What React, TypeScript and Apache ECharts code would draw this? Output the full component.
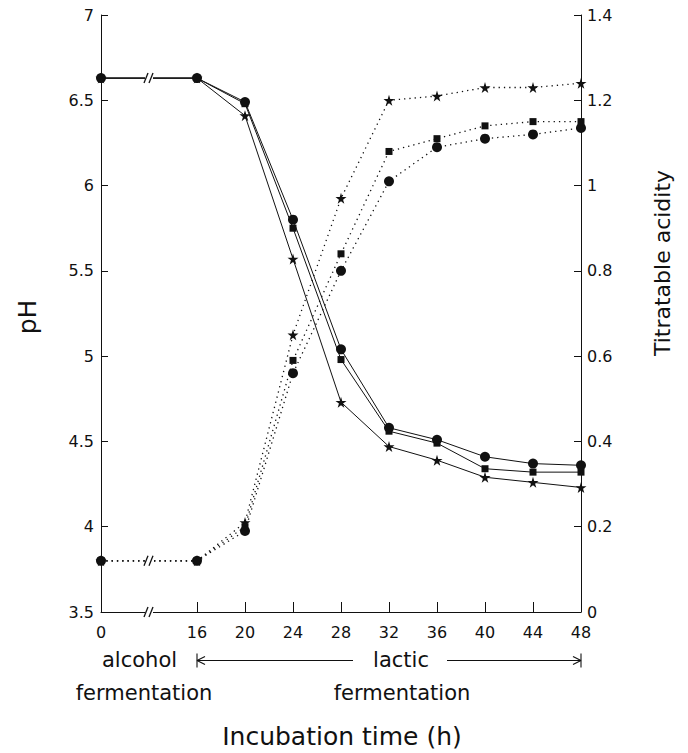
import React, { useEffect, useRef } from "react";
import * as echarts from "echarts";

const categories = ["0", "", "16", "20", "24", "28", "32", "36", "40", "44", "48"];
const phCircle = [6.63, null, 6.63, 6.49, 5.8, 5.04, 4.58, 4.51, 4.41, 4.37, 4.36];
const phSquare = [6.63, null, 6.63, 6.48, 5.75, 4.98, 4.56, 4.49, 4.34, 4.32, 4.32];
const phStar = [6.63, null, 6.63, 6.41, 5.57, 4.73, 4.47, 4.39, 4.29, 4.26, 4.23];
const taCircle = [0.12, null, 0.12, 0.19, 0.56, 0.8, 1.01, 1.09, 1.11, 1.12, 1.135];
const taSquare = [0.12, null, 0.12, 0.2, 0.59, 0.84, 1.08, 1.11, 1.14, 1.15, 1.15];
const taStar = [0.12, null, 0.12, 0.21, 0.65, 0.97, 1.2, 1.21, 1.23, 1.23, 1.24];

const FONT = "DejaVu Sans";
const INK = "#111";
const STAR = "path://M50,0 L61,35 L98,35 L68,57 L79,91 L50,70 L21,91 L32,57 L2,35 L39,35 Z";

export default function App() {
  const ref = useRef<HTMLDivElement>(null);
  useEffect(() => {
    if (!ref.current) return;
    const chart = echarts.init(ref.current, null, { renderer: "svg" });
    const solid = { color: INK, width: 1 };
    const dotted = { color: INK, width: 1.3, type: [1.3, 4] as any };
    const mk = (name: string, data: any[], yAxisIndex: number, symbol: string, size: number, ls: any) => ({
      name,
      type: "line",
      data,
      yAxisIndex,
      connectNulls: true,
      symbol,
      symbolSize: size,
      showSymbol: true,
      clip: false,
      itemStyle: { color: INK, borderWidth: 0 },
      lineStyle: ls,
    });
    chart.setOption({
      animation: false,
      grid: { left: 101, top: 15, width: 480, height: 597 },
      xAxis: {
        type: "category",
        data: categories,
        boundaryGap: false,
        axisLine: { show: true, lineStyle: { color: INK, width: 1 } },
        axisTick: {
          show: true,
          inside: true,
          length: 10,
          interval: (i: number) => i >= 2 && i < categories.length - 1,
          lineStyle: { color: INK },
        },
        axisLabel: { interval: 0, color: INK, fontFamily: FONT, fontSize: 16, margin: 12 },
        splitLine: { show: false },
      },
      yAxis: [
        {
          type: "value",
          min: 3.5,
          max: 7,
          interval: 0.5,
          axisLine: { show: true, lineStyle: { color: INK, width: 1 } },
          axisTick: { show: true, inside: true, length: 7, lineStyle: { color: INK } },
          axisLabel: { color: INK, fontFamily: FONT, fontSize: 16, margin: 7 },
          splitLine: { show: false },
        },
        {
          type: "value",
          min: 0,
          max: 1.4,
          interval: 0.2,
          position: "right",
          axisLine: { show: true, lineStyle: { color: INK, width: 1 } },
          axisTick: { show: true, inside: true, length: 7, lineStyle: { color: INK } },
          axisLabel: { color: INK, fontFamily: FONT, fontSize: 16, margin: 6 },
          splitLine: { show: false },
        },
      ],
      series: [
        mk("pH star", phStar, 0, STAR, 11, solid),
        mk("pH square", phSquare, 0, "rect", 7, solid),
        mk("pH circle", phCircle, 0, "circle", 10, solid),
        mk("TA circle", taCircle, 1, "circle", 10, dotted),
        mk("TA square", taSquare, 1, "rect", 7, dotted),
        mk("TA star", taStar, 1, STAR, 11, dotted),
      ],
    });

    const xb = chart.convertToPixel({ xAxisIndex: 0 }, 1) as number;
    const x0 = chart.convertToPixel({ xAxisIndex: 0 }, 0) as number;
    const x16 = chart.convertToPixel({ xAxisIndex: 0 }, 2) as number;
    const x48 = chart.convertToPixel({ xAxisIndex: 0 }, categories.length - 1) as number;
    const yPh = chart.convertToPixel({ yAxisIndex: 0 }, phCircle[0] as number) as number;
    const yTa = chart.convertToPixel({ yAxisIndex: 1 }, taCircle[0] as number) as number;
    const yBase = chart.convertToPixel({ yAxisIndex: 0 }, 3.5) as number;

    const brk = (y: number) => [
      { type: "rect", shape: { x: xb - 4, y: y - 3, width: 8, height: 6 }, style: { fill: "#fff" }, z: 100 },
      { type: "line", shape: { x1: xb - 5, y1: y + 5, x2: xb - 1, y2: y - 5 }, style: { stroke: INK, lineWidth: 1.3 }, z: 101 },
      { type: "line", shape: { x1: xb, y1: y + 5, x2: xb + 4, y2: y - 5 }, style: { stroke: INK, lineWidth: 1.3 }, z: 101 },
    ];
    const ya = 660.5;
    const seg = (x1: number, y1: number, x2: number, y2: number) => ({
      type: "line",
      shape: { x1, y1, x2, y2 },
      style: { stroke: INK, lineWidth: 1.1 },
      z: 101,
    });
    const txt = (text: string, x: number, y: number, size: number, align: string, rot = 0) => ({
      type: "text",
      x,
      y,
      rotation: rot,
      style: {
        text,
        fill: INK,
        font: `${size}px "${FONT}"`,
        align,
        verticalAlign: "middle",
      },
      z: 101,
    });
    chart.setOption({
      graphic: [
        ...brk(yPh),
        ...brk(yTa),
        ...brk(yBase),
        seg(x16, ya - 7, x16, ya + 7),
        seg(x16, ya, 353, ya),
        seg(x16, ya, x16 + 8, ya - 4),
        seg(x16, ya, x16 + 8, ya + 4),
        seg(447, ya, x48, ya),
        seg(x48, ya, x48 - 8, ya - 4),
        seg(x48, ya, x48 - 8, ya + 4),
        seg(x48, ya - 7, x48, ya + 7),
        txt("alcohol", x0 + 1, ya - 1, 21, "left"),
        txt("fermentation", 144, 693, 21, "center"),
        txt("lactic", 401, ya - 1, 21, "center"),
        txt("fermentation", 402, 693, 21, "center"),
        txt("Incubation time (h)", 342, 736, 25, "center"),
        txt("pH", 27, 317, 25, "center", Math.PI / 2),
        txt("Titratable acidity", 662, 263, 22, "center", Math.PI / 2),
      ],
    });
    return () => chart.dispose();
  }, []);
  return (
    <div
      ref={ref}
      style={{ position: "fixed", left: 0, top: 0, width: 688, height: 753, background: "#fff" }}
    />
  );
}
